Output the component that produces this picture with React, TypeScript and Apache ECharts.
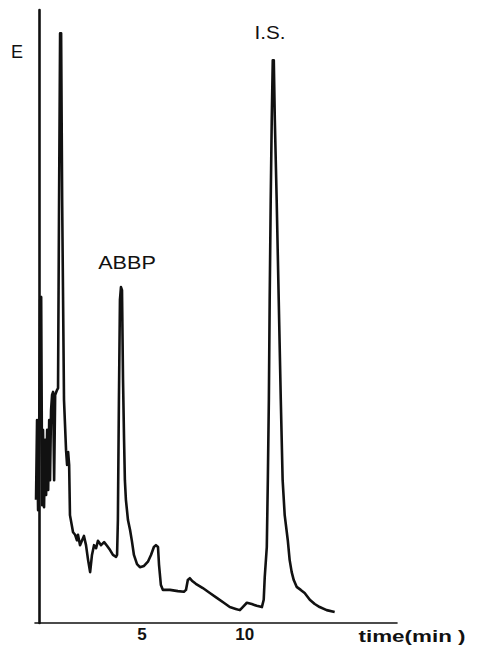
import React, { useEffect, useRef } from "react";
import * as echarts from "echarts";

// retention time (min)
const timeMin: number[] = [
  -0.15, -0.1, -0.05, 0, 0.05, 0.1, 0.15, 0.19, 0.24, 0.29, 0.34, 0.39, 0.44, 0.49, 0.53, 0.58,
  0.63, 0.68, 0.73, 0.78, 0.87, 0.92, 0.97, 1.02, 1.07, 1.12, 1.21, 1.31, 1.36, 1.41, 1.46,
  1.5, 1.65, 1.75, 1.84, 1.89, 1.99, 2.09, 2.18, 2.28, 2.38, 2.48, 2.57, 2.67, 2.77, 2.86,
  3.01, 3.16, 3.3, 3.45, 3.59, 3.74, 3.79, 3.83, 3.88, 3.93, 3.98, 4.03, 4.08, 4.13, 4.17,
  4.22, 4.32, 4.42, 4.51, 4.61, 4.76, 4.9, 5.1, 5.29, 5.44, 5.58, 5.68, 5.78, 5.83, 5.92,
  6.02, 6.36, 6.75, 7.04, 7.14, 7.23, 7.33, 7.43, 7.62, 7.96, 8.3, 8.64, 8.98, 9.27, 9.56,
  9.76, 9.9, 10.1, 10.34, 10.58, 10.83, 10.92, 10.97, 11.07, 11.12, 11.17, 11.21, 11.26,
  11.31, 11.36, 11.41, 11.46, 11.55, 11.65, 11.75, 11.84, 11.94, 12.09, 12.18, 12.28,
  12.38, 12.52, 12.72, 12.91, 13.16, 13.4, 13.64, 13.98, 14.37,
];

// detector response E (% of full scale)
const signal: number[] = [
  20.1, 33.1, 18.4, 29.9, 52.7, 53.2, 19.2, 31.5, 18.9, 29.9, 20.9, 31.5, 21.7, 33.1, 23.3, 34.7,
  37.2, 37.7, 23.3, 37.2, 38.0, 38.3, 69.0, 96.2, 96.2, 69.0, 36.4, 28.2, 25.8, 27.9, 25.8,
  17.6, 14.8, 14.4, 13.5, 14.4, 12.7, 13.5, 14.2, 12.7, 10.3, 8.3, 11.1, 12.7, 12.2, 13.4,
  12.7, 13.2, 12.6, 11.9, 11.1, 10.8, 11.1, 16.8, 36.4, 52.7, 54.8, 54.3, 39.6, 29.9, 23.3,
  20.1, 16.8, 15.2, 13.4, 11.1, 9.6, 9.1, 9.3, 10.0, 11.1, 12.4, 12.7, 12.4, 9.5, 6.2,
  5.4, 5.4, 5.2, 5.1, 5.4, 7.0, 7.3, 6.9, 6.4, 5.7, 4.9, 4.1, 3.3, 2.6, 2.3,
  2.1, 2.6, 3.3, 3.1, 2.8, 2.6, 3.8, 7.5, 12.4, 23.3, 36.4, 52.7, 69.0,
  82.1, 91.8, 91.8, 82.1, 69.0, 52.7, 36.4, 23.3, 17.6, 13.5, 10.3, 8.3,
  7.0, 5.9, 5.4, 4.9, 3.8, 3.1, 2.6, 2.1, 1.8,
];

const xTickLabels: number[] = [5, 10];

const peakLabels = [
  { text: "ABBP", x: 127, y: 263, scaleX: 1.2 },
  { text: "I.S.", x: 270, y: 33, scaleX: 1.15 },
];

export default function App() {
  const ref = useRef<HTMLDivElement>(null);

  useEffect(() => {
    if (!ref.current) return;
    const chart = echarts.init(ref.current, null, { renderer: "svg" });
    const data = timeMin.map((t, i) => [t, signal[i]]);
    const ink = "#111";
    chart.setOption({
      animation: false,
      backgroundColor: "#fff",
      grid: { left: 35, right: 87, top: 10, bottom: 23 },
      xAxis: {
        type: "value",
        min: -0.2,
        max: 17.4,
        axisLine: { show: true, lineStyle: { color: ink, width: 1.6 } },
        axisTick: { show: false },
        splitLine: { show: false },
        axisLabel: {
          customValues: xTickLabels,
          color: ink,
          fontSize: 17,
          fontWeight: "bold",
          fontFamily: "Liberation Sans",
          margin: 3,
        },
      },
      yAxis: {
        type: "value",
        min: 0,
        max: 100,
        axisLine: { show: true, lineStyle: { color: ink, width: 2.6 } },
        axisTick: { show: false },
        axisLabel: { show: false },
        splitLine: { show: false },
      },
      series: [
        {
          type: "line",
          data,
          symbol: "none",
          smooth: false,
          lineStyle: { color: ink, width: 2.6, join: "round" },
        },
      ],
      graphic: [
        {
          type: "text",
          x: 17,
          y: 52,
          style: {
            text: "E",
            fontSize: 18,
            fontFamily: "Liberation Sans",
            fill: ink,
            align: "center",
            verticalAlign: "middle",
          },
        },
        ...peakLabels.map((p) => ({
          type: "text",
          x: p.x,
          y: p.y,
          scaleX: p.scaleX,
          style: {
            text: p.text,
            fontSize: 18,
            fontFamily: "Liberation Sans",
            fill: ink,
            align: "center",
            verticalAlign: "middle",
          },
        })),
        {
          type: "text",
          x: 412,
          y: 636,
          scaleX: 1.4,
          style: {
            text: "time(min )",
            fontSize: 16,
            fontWeight: "bold",
            fontFamily: "Liberation Sans",
            fill: ink,
            align: "center",
            verticalAlign: "middle",
          },
        },
      ],
    });
    return () => chart.dispose();
  }, []);

  return (
    <div
      ref={ref}
      style={{ position: "fixed", left: 0, top: 0, width: 484, height: 646, background: "#fff" }}
    />
  );
}
